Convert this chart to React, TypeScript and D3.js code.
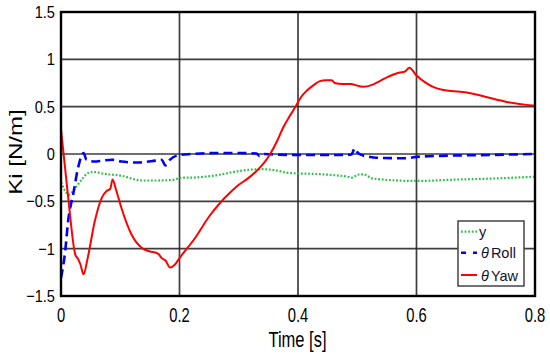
import React from "react";
import * as d3 from "d3";

const W = 550;
const H = 356;

const yawT = [0, 0.012, 0.024, 0.029, 0.033, 0.038, 0.045, 0.057, 0.069, 0.077, 0.083, 0.087, 0.093, 0.102, 0.119, 0.136, 0.15, 0.159, 0.165, 0.17, 0.177, 0.184, 0.192, 0.2, 0.226, 0.25, 0.268, 0.285, 0.297, 0.315, 0.33, 0.342, 0.353, 0.365, 0.375, 0.385, 0.395, 0.405, 0.415, 0.427, 0.437, 0.447, 0.457, 0.462, 0.475, 0.49, 0.496, 0.51, 0.525, 0.538, 0.55, 0.561, 0.572, 0.58, 0.588, 0.6, 0.614, 0.628, 0.651, 0.685, 0.713, 0.752, 0.8];
const yawV = [0.26, -0.45, -1.06, -1.11, -1.17, -1.27, -1.1, -0.71, -0.46, -0.39, -0.37, -0.27, -0.38, -0.57, -0.85, -0.99, -1.03, -1.04, -1.06, -1.1, -1.13, -1.2, -1.17, -1.1, -0.89, -0.66, -0.52, -0.41, -0.34, -0.26, -0.18, -0.1, 0.0, 0.14, 0.28, 0.39, 0.49, 0.6, 0.67, 0.73, 0.77, 0.78, 0.78, 0.75, 0.74, 0.74, 0.73, 0.71, 0.73, 0.77, 0.81, 0.84, 0.86, 0.87, 0.91, 0.83, 0.76, 0.71, 0.67, 0.65, 0.61, 0.55, 0.51];

const rollT = [0, 0.007, 0.012, 0.021, 0.029, 0.038, 0.043, 0.057, 0.07, 0.086, 0.102, 0.13, 0.159, 0.17, 0.176, 0.184, 0.2, 0.22, 0.26, 0.3, 0.33, 0.335, 0.34, 0.36, 0.4, 0.45, 0.482, 0.49, 0.496, 0.5, 0.507, 0.52, 0.533, 0.583, 0.6, 0.64, 0.724, 0.8];
const rollV = [-1.31, -1.03, -0.71, -0.41, -0.14, 0.01, -0.06, -0.08, -0.07, -0.06, -0.08, -0.09, -0.07, -0.06, -0.12, -0.06, -0.01, 0.0, 0.01, 0.01, 0.005, -0.02, 0.0, -0.005, -0.01, -0.01, -0.01, -0.005, 0.06, 0.02, -0.01, -0.03, -0.04, -0.045, -0.03, -0.02, -0.01, 0.0];

const yT = [0, 0.007, 0.013, 0.024, 0.035, 0.046, 0.055, 0.074, 0.102, 0.136, 0.159, 0.187, 0.204, 0.215, 0.271, 0.3, 0.339, 0.36, 0.384, 0.443, 0.488, 0.492, 0.5, 0.51, 0.527, 0.6, 0.668, 0.724, 0.8];
const yV = [-0.3, -0.39, -0.43, -0.36, -0.27, -0.2, -0.19, -0.21, -0.23, -0.28, -0.28, -0.275, -0.25, -0.25, -0.215, -0.18, -0.16, -0.17, -0.2, -0.215, -0.245, -0.25, -0.22, -0.215, -0.26, -0.285, -0.27, -0.26, -0.24];

const xTicks = [0, 0.2, 0.4, 0.6, 0.8];
const xTickLabels = ["0", "0.2", "0.4", "0.6", "0.8"];
const yTicks = [1.5, 1, 0.5, 0, -0.5, -1, -1.5];
const yTickLabels = ["1.5", "1", "0.5", "0", "\u22120.5", "\u22121", "\u22121.5"];

const legendNames = ["y", "Roll", "Yaw"];

const L = 61, R = 535, T = 12, B = 296;

export default function App() {
  const x = d3.scaleLinear().domain([0, 0.8]).range([L, R]);
  const y = d3.scaleLinear().domain([-1.5, 1.5]).range([B, T]);
  const line = d3
    .line<[number, number]>()
    .x((d) => x(d[0]))
    .y((d) => y(d[1]))
    .curve(d3.curveMonotoneX);
  const zip = (a: number[], b: number[]) => a.map((t, i) => [t, b[i]] as [number, number]);
  const font = "'Liberation Sans', Arial, sans-serif";
  const lx = 458, ly = 221, lw = 66, lh = 65;
  const rows = [231.7, 252.7, 275];

  return (
    <svg
      width={W}
      height={H}
      style={{ position: "absolute", left: 0, top: 0, background: "#fff" }}
      fontFamily={font}
    >
      <defs>
        <clipPath id="plot">
          <rect x={L} y={T} width={R - L} height={B - T} />
        </clipPath>
      </defs>
      <rect x={0} y={0} width={W} height={H} fill="#fff" />
      {/* grid */}
      {yTicks.map((v) => (
        <line key={"gy" + v} x1={L} x2={R} y1={y(v)} y2={y(v)} stroke="#2a2a2a" strokeWidth={1.7} opacity={0.9} />
      ))}
      {xTicks.map((v) => (
        <line key={"gx" + v} x1={x(v)} x2={x(v)} y1={T} y2={B} stroke="#2a2a2a" strokeWidth={1.7} opacity={0.9} />
      ))}
      {/* series */}
      <g clipPath="url(#plot)" fill="none">
        <path d={line(zip(yT, yV)) || ""} stroke="#2ec04a" strokeWidth={2.2} strokeDasharray="1.8,1.8" />
        <path d={line(zip(rollT, rollV)) || ""} stroke="#0000ff" strokeWidth={2.6} strokeDasharray="9,5" />
        <path d={line(zip(yawT, yawV)) || ""} stroke="#ff0000" strokeWidth={2} />
      </g>
      {/* frame */}
      <rect x={L} y={T} width={R - L} height={B - T} fill="none" stroke="#000" strokeWidth={2.4} />
      {/* y tick labels */}
      {yTicks.map((v, i) => (
        <g key={"yl" + v} transform={`translate(55,${y(v) + 6}) scale(0.86,1)`}>
          <text textAnchor="end" fontSize={17} fill="#000">
            {yTickLabels[i]}
          </text>
        </g>
      ))}
      {/* x tick labels */}
      {xTicks.map((v, i) => (
        <g key={"xl" + v} transform={`translate(${x(v)},322) scale(0.74,1)`}>
          <text textAnchor="middle" fontSize={20} fill="#000">
            {xTickLabels[i]}
          </text>
        </g>
      ))}
      {/* axis titles */}
      <g transform="translate(297.5,347) scale(0.75,1)">
        <text textAnchor="middle" fontSize={22} fill="#000">
          Time [s]
        </text>
      </g>
      <g transform="translate(22,152) rotate(-90) scale(1.3,1)">
        <text textAnchor="middle" fontSize={18.5} fill="#000">
          Ki [N/m]
        </text>
      </g>
      {/* legend */}
      <rect x={lx} y={ly} width={lw} height={lh} fill="#fff" stroke="#444" strokeWidth={1.5} />
      <line x1={461} x2={477} y1={rows[0]} y2={rows[0]} stroke="#2ec04a" strokeWidth={2.2} strokeDasharray="1.8,1.8" />
      <line x1={461} x2={477} y1={rows[1]} y2={rows[1]} stroke="#0000ff" strokeWidth={2.4} strokeDasharray="5,7" />
      <line x1={461} x2={477} y1={rows[2]} y2={rows[2]} stroke="#ff0000" strokeWidth={2} />
      <text x={479} y={237} fontSize={14.5} fill="#101030">
        {legendNames[0]}
      </text>
      <text x={481} y={258} fontSize={14.5} fill="#101030">
        <tspan fontStyle="italic">θ</tspan>
        <tspan dx={2}>{legendNames[1]}</tspan>
      </text>
      <text x={481} y={280.5} fontSize={14.5} fill="#101030">
        <tspan fontStyle="italic">θ</tspan>
        <tspan dx={2}>{legendNames[2]}</tspan>
      </text>
    </svg>
  );
}
